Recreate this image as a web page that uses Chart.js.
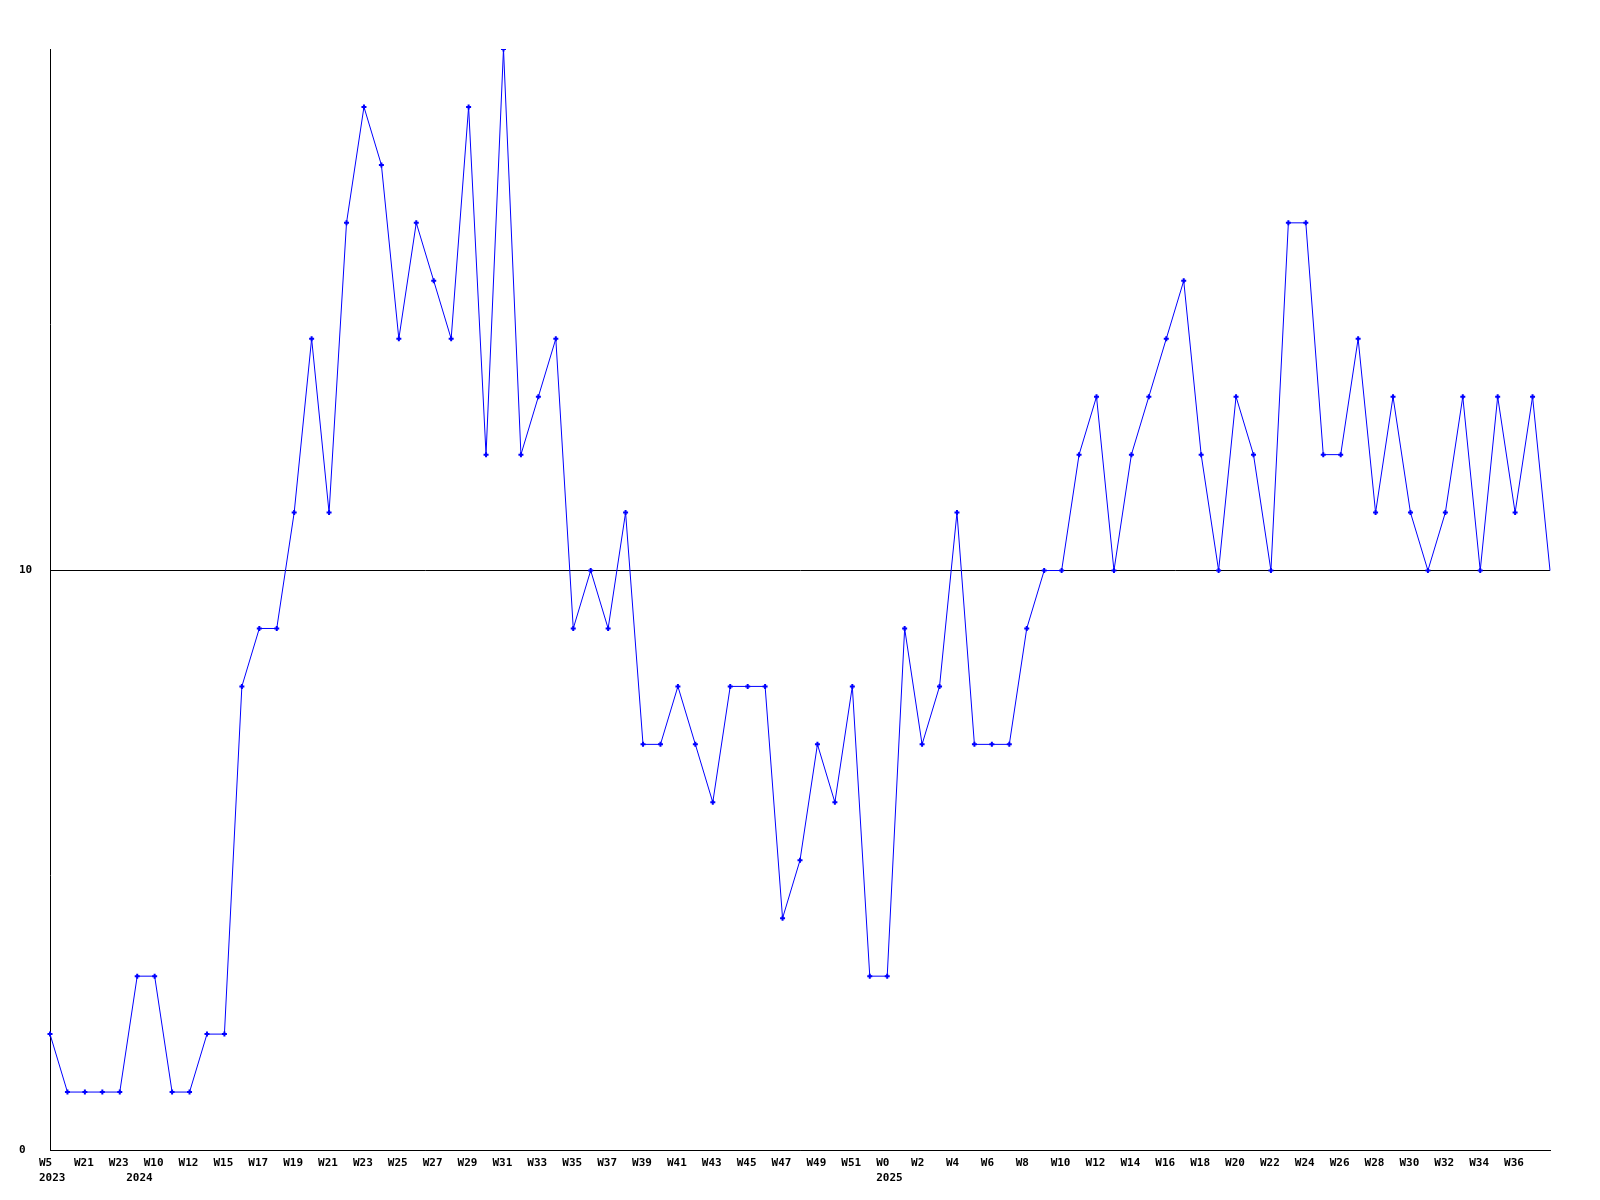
<!DOCTYPE html>
<html>
<head>
<meta charset="utf-8">
<script src="https://cdn.jsdelivr.net/npm/chart.js@4"></script>
<style>
    html, body { margin: 0; padding: 0; background: #fff; }
    #wrap { width: 1600px; height: 1200px; }
</style>
</head>
<body>
<div id="wrap"><canvas id="weekChart"></canvas></div>
<script>
// weekly counts, one point per week
const weeks = [
    'W5', 'W20', 'W21', 'W22', 'W23', 'W9', 'W10', 'W11', 'W12', 'W14',
    'W15', 'W16', 'W17', 'W18', 'W19', 'W20', 'W21', 'W22', 'W23', 'W24',
    'W25', 'W26', 'W27', 'W28', 'W29', 'W30', 'W31', 'W32', 'W33', 'W34',
    'W35', 'W36', 'W37', 'W38', 'W39', 'W40', 'W41', 'W42', 'W43', 'W44',
    'W45', 'W46', 'W47', 'W48', 'W49', 'W50', 'W51', 'W52', 'W0', 'W1',
    'W2', 'W3', 'W4', 'W5', 'W6', 'W7', 'W8', 'W9', 'W10', 'W11',
    'W12', 'W13', 'W14', 'W15', 'W16', 'W17', 'W18', 'W19', 'W20', 'W21',
    'W22', 'W23', 'W24', 'W25', 'W26', 'W27', 'W28', 'W29', 'W30', 'W31',
    'W32', 'W33', 'W34', 'W35', 'W36', 'W37', 'W38'
];
// index of the first week of each year
const yearStarts = { 0: '2023', 5: '2024', 48: '2025' };
const counts = [
    2, 1, 1, 1, 1, 3, 3, 1, 1, 2,
    2, 8, 9, 9, 11, 14, 11, 16, 18, 17,
    14, 16, 15, 14, 18, 12, 19, 12, 13, 14,
    9, 10, 9, 11, 7, 7, 8, 7, 6, 8,
    8, 8, 4, 5, 7, 6, 8, 3, 3, 9,
    7, 8, 11, 7, 7, 7, 9, 10, 10, 12,
    13, 10, 12, 13, 14, 15, 12, 10, 13, 12,
    10, 16, 16, 12, 12, 14, 11, 13, 11, 10,
    11, 13, 10, 13, 11, 13, 10
];
const yTicks = [0, 10];
const yMax = 19;

const tickFont = { family: '"DejaVu Sans Mono", monospace', size: 11, weight: 'bold', lineHeight: 1.35 };

document.addEventListener('DOMContentLoaded', function () {
    const ctx = document.getElementById('weekChart');
    new Chart(ctx, {
        type: 'line',
        data: {
            labels: weeks,
            datasets: [{
                data: counts,
                borderColor: '#0000ff',
                borderWidth: 1,
                tension: 0,
                fill: false,
                pointStyle: 'cross',
                pointRadius: (c) => c.dataIndex === counts.length - 1 ? 0 : 2.5,
                pointBorderWidth: 2,
                pointBorderColor: '#0000ff',
                pointBackgroundColor: '#0000ff',
            }],
        },
        options: {
            responsive: true,
            maintainAspectRatio: false,
            animation: false,
            layout: { padding: { left: 19, right: 50, top: 49, bottom: 0 } },
            plugins: {
                legend: { display: false },
                tooltip: { enabled: false },
            },
            scales: {
                x: {
                    offset: false,
                    border: { display: true, color: '#000', width: 1 },
                    grid: { drawOnChartArea: false, drawTicks: false },
                    afterFit: (s) => { s.height = 50; },
                    ticks: {
                        autoSkip: false,
                        maxRotation: 0,
                        minRotation: 0,
                        padding: 6,
                        align: 'start',
                        labelOffset: -11,
                        color: '#000',
                        font: tickFont,
                        callback: function (val, i) {
                            const showWeek = i % 2 === 0 && i < weeks.length - 1;
                            const week = showWeek ? weeks[i] : '';
                            const year = yearStarts[i];
                            return year ? [week, year] : week;
                        },
                    },
                },
                y: {
                    min: 0,
                    max: yMax,
                    border: { display: true, color: '#000', width: 1 },
                    grid: { color: '#000', lineWidth: 1, drawTicks: false },
                    afterBuildTicks: (s) => { s.ticks = yTicks.map(v => ({ value: v })); },
                    afterFit: (s) => { s.width = 31; },
                    ticks: {
                        crossAlign: 'far',
                        color: '#000',
                        font: tickFont,
                    },
                },
            },
        },
    });
});
</script>
</body>
</html>
